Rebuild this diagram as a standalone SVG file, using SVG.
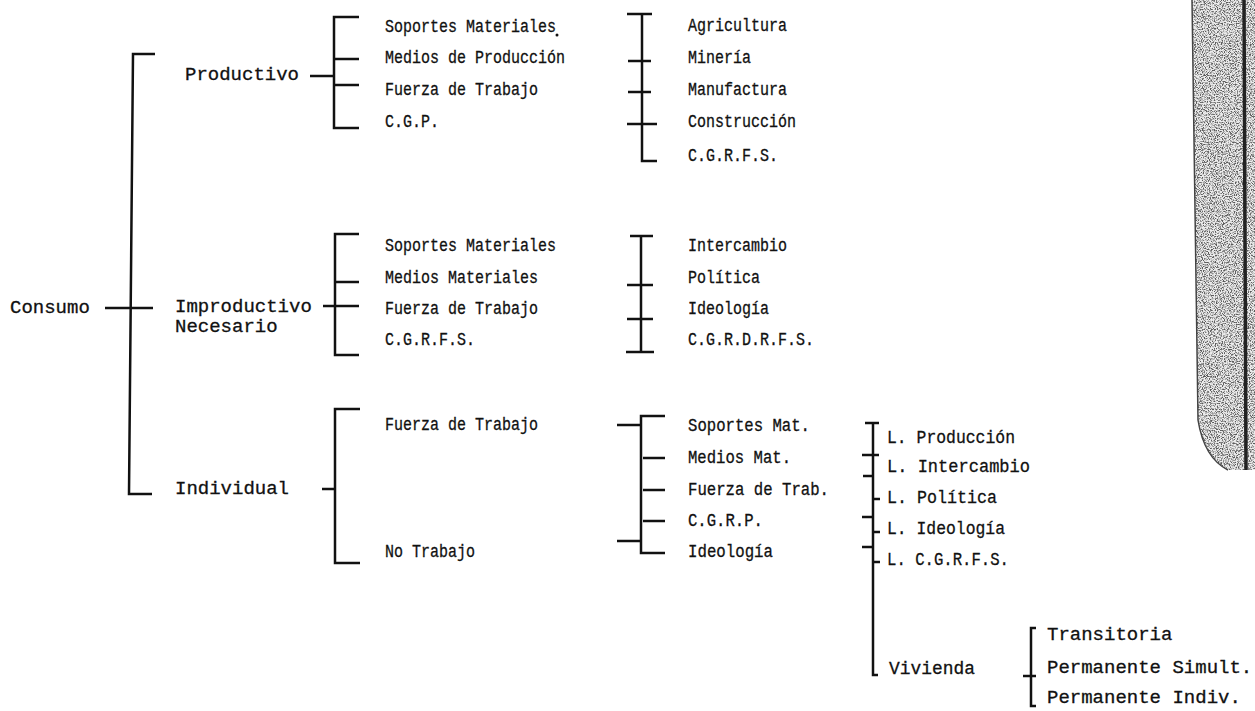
<svg xmlns="http://www.w3.org/2000/svg" width="1255" height="711" viewBox="0 0 1255 711">
<style>
text{font-family:"Liberation Mono","DejaVu Sans Mono",monospace;fill:#111;stroke:#111;stroke-width:0.3px}
.t{font-size:19px}
.s{font-size:18px}
.l{font-size:19px}
.c{stroke:#111;stroke-width:2.5;fill:none}
</style>
<defs>
<filter id="grain" x="0" y="0" width="100%" height="100%">
<feTurbulence type="fractalNoise" baseFrequency="0.85" numOctaves="2" seed="7" result="n"/>
<feColorMatrix in="n" type="matrix" values="0 0 0 0 0.1  0 0 0 0 0.1  0 0 0 0 0.1  4 0 0 0 -1.75" result="d"/>
<feComposite in="d" in2="SourceGraphic" operator="in"/>
</filter>
</defs>
<rect width="1255" height="711" fill="#fff"/>

<g id="page-edge">
<path d="M1192,0 L1255,0 L1255,470 L1228,470 C1212,462 1202,445 1198,420 Z" fill="#ececec"/>
<path d="M1192,0 L1255,0 L1255,470 L1228,470 C1212,462 1202,445 1198,420 Z" fill="#000" filter="url(#grain)"/>
<path d="M1192,0 L1198,420 C1202,445 1212,462 1228,470" fill="none" stroke="#444" stroke-width="1.5"/>
<path d="M1244,0 L1246,470" stroke="#222" stroke-width="3.5"/>
</g>

<g id="connectors">
<path class="c" d="M155,54 L133,54 L129,494 L152,494 M105,308 H153"/>
<path class="c" d="M310,76 H334 M359,17 H334 V128 H359 M334,59 H359 M334,85 H359"/>
<path class="c" d="M627,14 H652 M642,14 V161 H657 M628,61 H651 M628,92 H651 M627,124 H657"/>
<path class="c" d="M323,306 H359 M359,234 H335 V355 H359 M335,282 H359"/>
<path class="c" d="M641,236 V352 M630,236 H653 M627,285 H653 M627,319 H653 M626,352 H654"/>
<path class="c" d="M360,409 H335 V563 H360 M322,489 H335"/>
<path class="c" d="M665,416 H641 V553 H665 M617,425 H641 M643,458 H665 M643,490 H665 M643,521 H665 M617,541 H641"/>
<path class="c" d="M865,423 H879 M873,423 V675 H878 M862,455 H879 M863,476 H873 M873,499 H880 M862,517 H873 M873,532 H880 M862,547 H873 M873,562 H880"/>
<path class="c" d="M1036,628 H1031 V706 H1036 M1023,676 H1036"/>
</g>

<g id="consumo"><text class="t" x="10" y="313">Consumo</text></g>
<g id="productivo"><text class="t" x="185" y="80">Productivo</text></g>
<g id="improductivo"><text class="t" x="175" y="312">Improductivo</text><text class="t" x="175" y="332">Necesario</text></g>
<g id="individual"><text class="t" x="175" y="494">Individual</text></g>

<g id="prod-items">
<text class="s" x="385" y="32" textLength="171" lengthAdjust="spacingAndGlyphs">Soportes Materiales</text>
<circle cx="557" cy="35" r="1.5" fill="#111"/>
<text class="s" x="385" y="63" textLength="180" lengthAdjust="spacingAndGlyphs">Medios de Producción</text>
<text class="s" x="385" y="95" textLength="153" lengthAdjust="spacingAndGlyphs">Fuerza de Trabajo</text>
<text class="s" x="385" y="127" textLength="54" lengthAdjust="spacingAndGlyphs">C.G.P.</text>
</g>
<g id="prod-sectors">
<text class="s" x="688" y="31" textLength="99" lengthAdjust="spacingAndGlyphs">Agricultura</text>
<text class="s" x="688" y="63" textLength="63" lengthAdjust="spacingAndGlyphs">Minería</text>
<text class="s" x="688" y="95" textLength="99" lengthAdjust="spacingAndGlyphs">Manufactura</text>
<text class="s" x="688" y="127" textLength="108" lengthAdjust="spacingAndGlyphs">Construcción</text>
<text class="s" x="688" y="161" textLength="90" lengthAdjust="spacingAndGlyphs">C.G.R.F.S.</text>
</g>

<g id="improd-items">
<text class="s" x="385" y="251" textLength="171" lengthAdjust="spacingAndGlyphs">Soportes Materiales</text>
<text class="s" x="385" y="283" textLength="153" lengthAdjust="spacingAndGlyphs">Medios Materiales</text>
<text class="s" x="385" y="314" textLength="153" lengthAdjust="spacingAndGlyphs">Fuerza de Trabajo</text>
<text class="s" x="385" y="345" textLength="90" lengthAdjust="spacingAndGlyphs">C.G.R.F.S.</text>
</g>
<g id="improd-sectors">
<text class="s" x="688" y="251" textLength="99" lengthAdjust="spacingAndGlyphs">Intercambio</text>
<text class="s" x="688" y="283" textLength="72" lengthAdjust="spacingAndGlyphs">Política</text>
<text class="s" x="688" y="314" textLength="81" lengthAdjust="spacingAndGlyphs">Ideología</text>
<text class="s" x="688" y="345" textLength="126" lengthAdjust="spacingAndGlyphs">C.G.R.D.R.F.S.</text>
</g>

<g id="indiv-items">
<text class="s" x="385" y="430" textLength="153" lengthAdjust="spacingAndGlyphs">Fuerza de Trabajo</text>
<text class="s" x="385" y="557" textLength="90" lengthAdjust="spacingAndGlyphs">No Trabajo</text>
</g>
<g id="indiv-sub">
<text class="s" x="688" y="431" textLength="122" lengthAdjust="spacingAndGlyphs">Soportes Mat.</text>
<text class="s" x="688" y="463" textLength="103" lengthAdjust="spacingAndGlyphs">Medios Mat.</text>
<text class="s" x="688" y="495" textLength="141" lengthAdjust="spacingAndGlyphs">Fuerza de Trab.</text>
<text class="s" x="688" y="526" textLength="75" lengthAdjust="spacingAndGlyphs">C.G.R.P.</text>
<text class="s" x="688" y="557" textLength="85" lengthAdjust="spacingAndGlyphs">Ideología</text>
</g>
<g id="lugares">
<text class="l" x="887" y="443" textLength="128" lengthAdjust="spacingAndGlyphs">L. Producción</text>
<text class="l" x="887" y="472" textLength="143" lengthAdjust="spacingAndGlyphs">L. Intercambio</text>
<text class="l" x="887" y="503" textLength="110" lengthAdjust="spacingAndGlyphs">L. Política</text>
<text class="l" x="887" y="534" textLength="118" lengthAdjust="spacingAndGlyphs">L. Ideología</text>
<text class="l" x="887" y="565" textLength="122" lengthAdjust="spacingAndGlyphs">L. C.G.R.F.S.</text>
</g>
<g id="vivienda"><text class="l" x="889" y="674" textLength="86" lengthAdjust="spacingAndGlyphs">Vivienda</text></g>
<g id="vivienda-tipos">
<text class="t" x="1047" y="640">Transitoria</text>
<text class="t" x="1047" y="673">Permanente Simult.</text>
<text class="t" x="1047" y="703">Permanente Indiv.</text>
</g>
</svg>
